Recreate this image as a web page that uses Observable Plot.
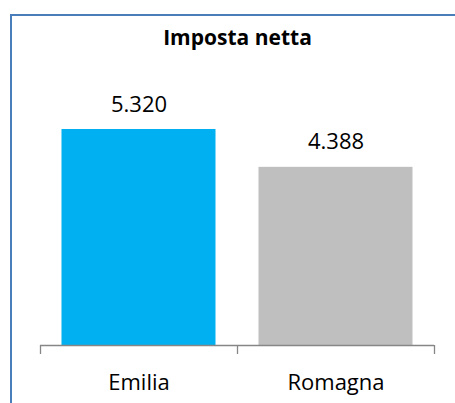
<!DOCTYPE html>
<html>
<head>
<meta charset="utf-8">
<script src="https://cdn.jsdelivr.net/npm/d3@7"></script>
<script src="https://cdn.jsdelivr.net/npm/@observablehq/plot@0.6"></script>
<style>
  html, body { margin: 0; padding: 0; background: #fff; overflow: hidden; }
  #chart svg { display: block; }
</style>
</head>
<body>
<div id="chart"></div>
<script>
const title = "Imposta netta";
const categories = ["Emilia", "Romagna"];
const values = [5320, 4388];
const valueLabels = ["5.320", "4.388"];
const colors = ["#00B0F0", "#BFBFBF"];

const data = categories.map((c, i) => ({cat: c, i, value: values[i], label: valueLabels[i], color: colors[i]}));

const font = "'Open Sans', sans-serif";
const W = 455, H = 403;
const marginTop = 101.4;

const chart = Plot.plot({
  width: W,
  height: H,
  marginLeft: 40,
  marginRight: 21,
  marginTop,
  marginBottom: 58,
  style: {fontFamily: font, background: "#fff", color: "#000"},
  x: {type: "linear", domain: [0, categories.length], axis: null},
  y: {domain: [0, 6000], axis: null},
  marks: [
    Plot.rectY(data, {x1: d => d.i, x2: d => d.i + 1, y1: 0, y2: "value", fill: "color", insetLeft: 21.5, insetRight: 21.5}),
    Plot.ruleY([0], {stroke: "#868686", strokeWidth: 1.3}),
    Plot.axisX({ticks: d3.range(categories.length + 1), tickSize: 9, tickFormat: () => "", stroke: "#868686", strokeWidth: 1.3}),
    Plot.text(data, {x: d => d.i + 0.5, y: "value", text: "label", dy: -18, lineAnchor: "bottom", fontSize: 22, fill: "#000"}),
    Plot.text(data, {x: d => d.i + 0.5, y: 0, text: "cat", dy: 44, lineAnchor: "bottom", fontSize: 22, fill: "#000"}),
    Plot.text([title], {frameAnchor: "top", dy: 44 - marginTop, lineAnchor: "bottom", fontSize: 21, fontWeight: "bold", fill: "#000"})
  ]
});
// chart area border (left and top edges visible in the crop)
d3.select(chart).append("path")
  .attr("d", `M11,${H + 5}V15H${W + 5}`)
  .attr("fill", "none")
  .attr("stroke", "#4A7EBB")
  .attr("stroke-width", 2);
document.getElementById("chart").appendChild(chart);
</script>
</body>
</html>
